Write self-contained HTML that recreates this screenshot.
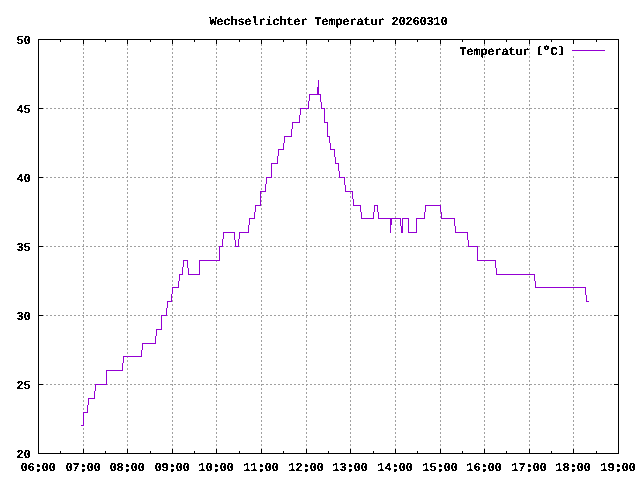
<!DOCTYPE html>
<html lang="de"><head><meta charset="utf-8"><title>Wechselrichter Temperatur 20260310</title>
<style>html,body{margin:0;padding:0;background:#fff;width:640px;height:480px;overflow:hidden}svg{display:block}.c{stroke:#000;stroke-width:1.1px;stroke-linejoin:round}</style>
</head><body>
<svg width="640" height="480" viewBox="0 0 640 480" shape-rendering="crispEdges">
<rect width="640" height="480" fill="#fff"/>
<g stroke="#a0a0a0" stroke-width="1" stroke-dasharray="2 2" fill="none"><line x1="38" y1="384.5" x2="618" y2="384.5"/><line x1="38" y1="315.5" x2="618" y2="315.5"/><line x1="38" y1="246.5" x2="618" y2="246.5"/><line x1="38" y1="177.5" x2="618" y2="177.5"/><line x1="38" y1="108.5" x2="618" y2="108.5"/><line x1="83.5" y1="454" x2="83.5" y2="39"/><line x1="127.5" y1="454" x2="127.5" y2="39"/><line x1="172.5" y1="454" x2="172.5" y2="39"/><line x1="216.5" y1="454" x2="216.5" y2="39"/><line x1="261.5" y1="454" x2="261.5" y2="39"/><line x1="306.5" y1="454" x2="306.5" y2="39"/><line x1="350.5" y1="454" x2="350.5" y2="39"/><line x1="395.5" y1="454" x2="395.5" y2="39"/><line x1="440.5" y1="454" x2="440.5" y2="39"/><line x1="484.5" y1="454" x2="484.5" y2="39"/><line x1="529.5" y1="454" x2="529.5" y2="39"/><line x1="573.5" y1="454" x2="573.5" y2="39"/></g>
<rect x="572" y="44" width="34" height="12" fill="#fff"/>
<path fill="#000" d="M38 39h581v1h-581zM38 453h581v1h-581zM38 39h1v415h-1zM618 39h1v415h-1zM38 40h1v4h-1zM38 449h1v4h-1zM83 40h1v4h-1zM83 449h1v4h-1zM127 40h1v4h-1zM127 449h1v4h-1zM172 40h1v4h-1zM172 449h1v4h-1zM216 40h1v4h-1zM216 449h1v4h-1zM261 40h1v4h-1zM261 449h1v4h-1zM306 40h1v4h-1zM306 449h1v4h-1zM350 40h1v4h-1zM350 449h1v4h-1zM395 40h1v4h-1zM395 449h1v4h-1zM440 40h1v4h-1zM440 449h1v4h-1zM484 40h1v4h-1zM484 449h1v4h-1zM529 40h1v4h-1zM529 449h1v4h-1zM573 40h1v4h-1zM573 449h1v4h-1zM618 40h1v4h-1zM618 449h1v4h-1zM60 40h1v2h-1zM60 451h1v2h-1zM105 40h1v2h-1zM105 451h1v2h-1zM150 40h1v2h-1zM150 451h1v2h-1zM194 40h1v2h-1zM194 451h1v2h-1zM239 40h1v2h-1zM239 451h1v2h-1zM283 40h1v2h-1zM283 451h1v2h-1zM328 40h1v2h-1zM328 451h1v2h-1zM373 40h1v2h-1zM373 451h1v2h-1zM417 40h1v2h-1zM417 451h1v2h-1zM462 40h1v2h-1zM462 451h1v2h-1zM506 40h1v2h-1zM506 451h1v2h-1zM551 40h1v2h-1zM551 451h1v2h-1zM596 40h1v2h-1zM596 451h1v2h-1zM39 453h4v1h-4zM614 453h4v1h-4zM39 384h4v1h-4zM614 384h4v1h-4zM39 315h4v1h-4zM614 315h4v1h-4zM39 246h4v1h-4zM614 246h4v1h-4zM39 177h4v1h-4zM614 177h4v1h-4zM39 108h4v1h-4zM614 108h4v1h-4zM39 39h4v1h-4zM614 39h4v1h-4z"/>
<rect x="572" y="50" width="33" height="1" fill="#9400d3"/>
<path fill="#9400d3" d="M223 232h12v1h-12zM239 232h10v1h-10zM401 232h2v1h-2zM408 232h9v1h-9zM455 232h13v1h-13zM83 412h5v1h-5zM172 287h7v1h-7zM535 287h51v1h-51zM255 205h6v1h-6zM353 205h8v1h-8zM374 205h4v1h-4zM425 205h16v1h-16zM179 274h4v1h-4zM188 274h12v1h-12zM496 274h39v1h-39zM300 108h9v1h-9zM321 108h4v1h-4zM219 246h4v1h-4zM235 246h4v1h-4zM468 246h10v1h-10zM271 163h7v1h-7zM335 163h4v1h-4zM401 226h2v1h-2zM390 222h2v1h-2zM183 260h5v1h-5zM199 260h21v1h-21zM477 260h19v1h-19zM106 370h17v1h-17zM95 384h12v1h-12zM156 329h6v1h-6zM88 398h7v1h-7zM401 227h2v1h-2zM142 343h14v1h-14zM167 301h5v1h-5zM586 301h3v1h-3zM81 425h3v1h-3zM249 218h6v1h-6zM361 218h13v1h-13zM378 218h23v1h-23zM402 218h7v1h-7zM416 218h9v1h-9zM441 218h14v1h-14zM390 221h2v1h-2zM278 149h6v1h-6zM330 149h5v1h-5zM292 122h8v1h-8zM324 122h4v1h-4zM284 136h8v1h-8zM327 136h3v1h-3zM266 177h6v1h-6zM339 177h6v1h-6zM123 356h19v1h-19zM309 94h12v1h-12zM401 230h2v1h-2zM401 228h2v1h-2zM390 220h2v1h-2zM401 229h2v1h-2zM260 191h6v1h-6zM345 191h8v1h-8zM390 223h2v1h-2zM390 224h2v1h-2zM390 219h2v1h-2zM401 231h2v1h-2zM317 91h2v1h-2zM161 315h6v1h-6zM317 89h2v1h-2zM317 90h2v1h-2zM317 93h2v1h-2zM317 88h2v1h-2zM317 92h2v1h-2zM317 87h2v1h-2zM106 371h1v13h-1zM183 261h1v6h-1zM260 192h1v13h-1zM344 178h1v7h-1zM83 413h1v12h-1zM95 385h1v6h-1zM161 316h1v13h-1zM308 101h1v7h-1zM327 123h1v13h-1zM468 240h1v6h-1zM142 344h1v6h-1zM87 405h1v7h-1zM309 95h1v6h-1zM320 95h1v7h-1zM377 206h1v6h-1zM408 219h1v13h-1zM400 219h1v7h-1zM330 143h1v6h-1zM535 281h1v6h-1zM166 308h1v7h-1zM178 281h1v6h-1zM123 357h1v6h-1zM334 150h1v7h-1zM182 267h1v7h-1zM284 137h1v6h-1zM248 225h1v7h-1zM239 233h1v6h-1zM300 109h1v6h-1zM255 206h1v6h-1zM122 363h1v7h-1zM94 391h1v7h-1zM235 240h1v6h-1zM467 233h1v7h-1zM373 212h1v6h-1zM441 212h1v6h-1zM291 129h1v7h-1zM292 123h1v6h-1zM361 212h1v6h-1zM390 225h1v8h-1zM329 137h1v6h-1zM141 350h1v6h-1zM402 219h1v7h-1zM156 330h1v6h-1zM172 288h1v6h-1zM271 164h1v13h-1zM283 143h1v6h-1zM299 115h1v7h-1zM219 247h1v13h-1zM339 171h1v6h-1zM534 275h1v6h-1zM223 233h1v6h-1zM353 199h1v6h-1zM496 268h1v6h-1zM440 206h1v6h-1zM477 247h1v13h-1zM199 261h1v13h-1zM455 226h1v6h-1zM238 239h1v7h-1zM188 268h1v6h-1zM234 233h1v7h-1zM254 212h1v6h-1zM266 178h1v6h-1zM222 239h1v7h-1zM495 261h1v7h-1zM586 295h1v6h-1zM416 219h1v13h-1zM345 185h1v6h-1zM425 206h1v6h-1zM338 164h1v7h-1zM335 157h1v6h-1zM179 275h1v6h-1zM454 219h1v7h-1zM352 192h1v7h-1zM360 206h1v6h-1zM171 294h1v7h-1zM318 80h1v7h-1zM249 219h1v6h-1zM378 212h1v6h-1zM187 261h1v7h-1zM265 184h1v7h-1zM88 399h1v6h-1zM277 156h1v7h-1zM321 102h1v6h-1zM324 109h1v13h-1zM155 336h1v7h-1zM167 302h1v6h-1zM278 150h1v6h-1zM424 212h1v6h-1zM585 288h1v7h-1zM374 206h1v6h-1z"/>
<defs><filter id="px" filterUnits="userSpaceOnUse" x="0" y="0" width="640" height="480" color-interpolation-filters="sRGB"><feComponentTransfer><feFuncA type="discrete" tableValues="0 0 1 1 1"/></feComponentTransfer></filter></defs>
<g filter="url(#px)" font-family="'Liberation Mono', monospace" font-weight="bold" font-size="12px" fill="#000" letter-spacing="-0.2" text-rendering="geometricPrecision">
<text x="209.5" y="25">Wechselrichter Temperatur 20260310</text>
<text x="459.5" y="55">Temperatur <tspan font-size="9px" dy="-2.2" dx="-0.5" textLength="7" lengthAdjust="spacingAndGlyphs">[</tspan><tspan x="542" y="56" font-size="15px" stroke="#000" stroke-width="0.3">°</tspan><tspan x="550.5" y="55">C</tspan><tspan font-size="9px" dy="-2.2" textLength="7" lengthAdjust="spacingAndGlyphs">]</tspan></text>
<text x="16.5" y="458">20</text>
<text x="16.5" y="389">25</text>
<text x="16.5" y="320">30</text>
<text x="16.5" y="251">35</text>
<text x="16.5" y="182">40</text>
<text x="16.5" y="113">45</text>
<text x="16.5" y="44">50</text>
<text x="20.5" y="471">06<tspan class="c">:</tspan>00</text>
<text x="65.5" y="471">07<tspan class="c">:</tspan>00</text>
<text x="109.5" y="471">08<tspan class="c">:</tspan>00</text>
<text x="154.5" y="471">09<tspan class="c">:</tspan>00</text>
<text x="198.5" y="471">10<tspan class="c">:</tspan>00</text>
<text x="243.5" y="471">11<tspan class="c">:</tspan>00</text>
<text x="288.5" y="471">12<tspan class="c">:</tspan>00</text>
<text x="332.5" y="471">13<tspan class="c">:</tspan>00</text>
<text x="377.5" y="471">14<tspan class="c">:</tspan>00</text>
<text x="422.5" y="471">15<tspan class="c">:</tspan>00</text>
<text x="466.5" y="471">16<tspan class="c">:</tspan>00</text>
<text x="511.5" y="471">17<tspan class="c">:</tspan>00</text>
<text x="555.5" y="471">18<tspan class="c">:</tspan>00</text>
<text x="600.5" y="471">19<tspan class="c">:</tspan>00</text>
</g>
</svg>
</body></html>
